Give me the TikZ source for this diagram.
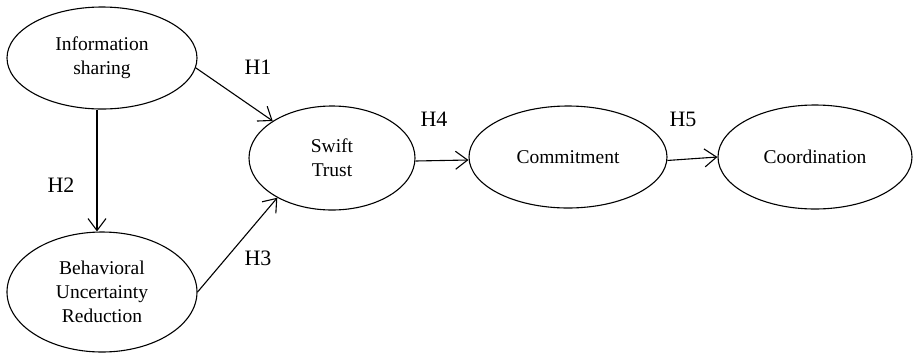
\documentclass[tikz,border=0pt]{standalone}
\usepackage{fontspec}
\setmainfont{Liberation Serif}
\usetikzlibrary{shapes.geometric,arrows.meta}
\tikzset{
  construct/.style={draw, ellipse, line width=1.1pt, inner sep=0pt, align=center,
    font=\fontsize{19.5}{24}\selectfont},
  link/.style={line width=1.1pt, -{Straight Barb[length=12pt,width=18pt,line width=1.1pt]}},
  hyp/.style={font=\fontsize{22}{26}\selectfont, inner sep=0pt}
}
\begin{document}
\begin{tikzpicture}[x=1pt,y=-1pt]
  \useasboundingbox (0,0) rectangle (915,354);
  % constructs
  \node[construct, minimum width=190pt, minimum height=102pt] (is) at (102,58) {Information\\sharing};
  \node[construct, minimum width=190pt, minimum height=120pt] (bu) at (102,292) {Behavioral\\Uncertainty\\Reduction};
  \node[construct, minimum width=166pt, minimum height=104pt] (st) at (332,158) {Swift\\Trust};
  \node[construct, minimum width=198pt, minimum height=102pt] (cm) at (568,157) {Commitment};
  \node[construct, minimum width=194pt, minimum height=104pt] (co) at (815,157) {Coordination};
  % hypothesised paths
  \draw[link] (is.-6) -- (st.148);
  \draw[link] ([xshift=-5pt]is.south) -- ([xshift=-5pt]bu.north);
  \draw[link] (bu.0) -- (st.216);
  \draw[link] ([yshift=-3pt]st.east) -- ([yshift=-3pt]cm.west);
  \draw[link] (cm.-2) -- (co.west);
  % hypothesis labels
  \node[hyp] (h1) at (258,67) {H1};
  \node[hyp] (h2) at (61,185) {H2};
  \node[hyp] (h3) at (258,258) {H3};
  \node[hyp] (h4) at (434,119) {H4};
  \node[hyp] (h5) at (683,119) {H5};
\end{tikzpicture}
\end{document}
